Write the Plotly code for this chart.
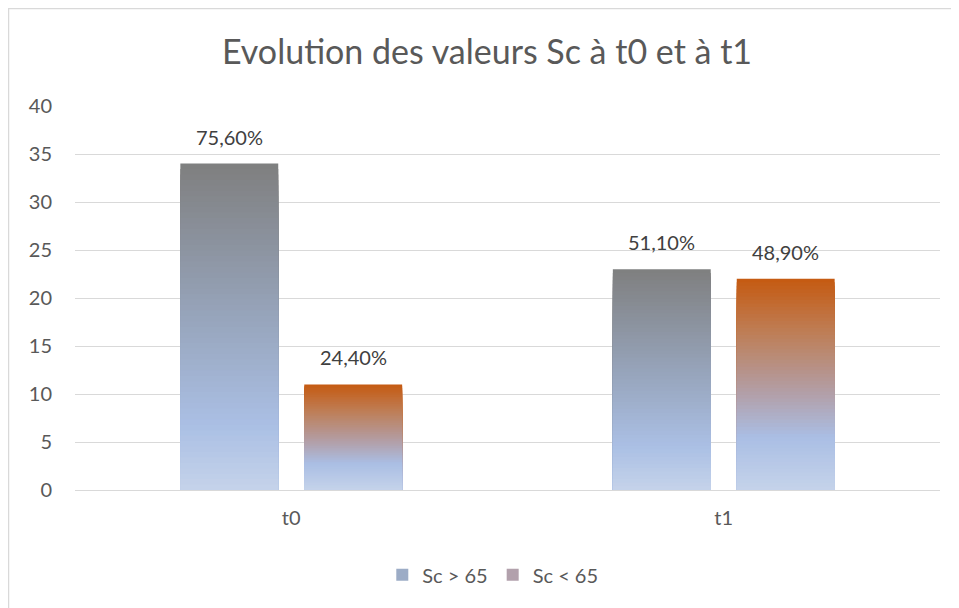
import plotly.graph_objects as go

categories = ["t0", "t1"]
series_names = ["Sc > 65", "Sc < 65"]
sc_above = [34, 23]
sc_below = [11, 22]
pct_above = ["75,60%", "51,10%"]
pct_below = ["24,40%", "48,90%"]

# gradient stops (fraction of bar height from bottom -> colour), Excel-like fill
grad_above = [(0.0, (197, 211, 234)), (0.2, (170, 191, 228)), (0.55, (150, 163, 185)), (1.0, (127, 127, 127))]
grad_below = [(0.0, (197, 211, 234)), (0.25, (170, 190, 228)), (0.45, (178, 160, 170)), (0.75, (190, 125, 85)), (1.0, (197, 90, 17))]

N_SLICES = 60
BAR_SHIFT = 62  # px, half the distance between the two bars of a group


def colour_at(stops, f):
    for (f0, c0), (f1, c1) in zip(stops, stops[1:]):
        if f0 <= f <= f1:
            t = (f - f0) / (f1 - f0)
            return "rgb(%d,%d,%d)" % tuple(round(a + (b - a) * t) for a, b in zip(c0, c1))
    return "rgb(%d,%d,%d)" % stops[-1][1]


def gradient_bar(values, stops, name, group):
    # overlapping bars, tallest first, so the fill looks like a vertical gradient
    traces = []
    for k in range(N_SLICES, 0, -1):
        traces.append(go.Bar(
            x=categories,
            y=[v * k / N_SLICES for v in values],
            base=[0] * len(values),
            offsetgroup=group,
            marker=dict(color=colour_at(stops, (k - 0.5) / N_SLICES), line=dict(width=0)),
            name=name,
            legendgroup=name,
            showlegend=(k == int(N_SLICES * 0.45)),
            hoverinfo="skip",
        ))
    return traces


fig = go.Figure(gradient_bar(sc_above, grad_above, series_names[0], "a")
                + gradient_bar(sc_below, grad_below, series_names[1], "b"))

annotations = []
for values, labels, shift in [(sc_above, pct_above, -BAR_SHIFT), (sc_below, pct_below, BAR_SHIFT)]:
    for cat, v, lab in zip(categories, values, labels):
        annotations.append(dict(x=cat, y=v, text=lab, showarrow=False, xshift=shift, yshift=13,
                                yanchor="bottom", font=dict(size=20, color="#404040")))

fig.update_layout(
    width=959, height=608,
    margin=dict(l=67, r=27, t=98, b=126),
    paper_bgcolor="white", plot_bgcolor="white",
    font=dict(family="Lato", color="#595959", size=20),
    barmode="group", bargap=0.427, bargroupgap=0.21,
    title=dict(text="Evolution des valeurs Sc à t0 et à t1", x=0.4995, xref="container",
               xanchor="center", y=1 - 44 / 608, yref="container", yanchor="middle",
               font=dict(size=34, color="#595959")),
    legend=dict(orientation="h", x=0.483, xanchor="center", y=-0.221, yanchor="middle",
                font=dict(size=20, color="#595959"), traceorder="normal"),
    annotations=annotations,
    shapes=[dict(type="rect", xref="paper", yref="paper", x0=-0.0769, x1=1.5, y0=-1, y1=1.2539,
                 line=dict(color="#d9d9d9", width=1.5), fillcolor="rgba(0,0,0,0)", layer="below")],
)
fig.update_yaxes(range=[0, 40], dtick=5, showgrid=True, gridcolor="#d9d9d9", gridwidth=1,
                 zeroline=False, showline=False, ticks="", ticklabelstandoff=22,
                 tickfont=dict(size=20, color="#595959"))
fig.update_xaxes(showline=True, linecolor="#d9d9d9", linewidth=1, ticks="",
                 tickfont=dict(size=20, color="#595959"), ticklabelstandoff=10)

fig.write_html("out.html")
